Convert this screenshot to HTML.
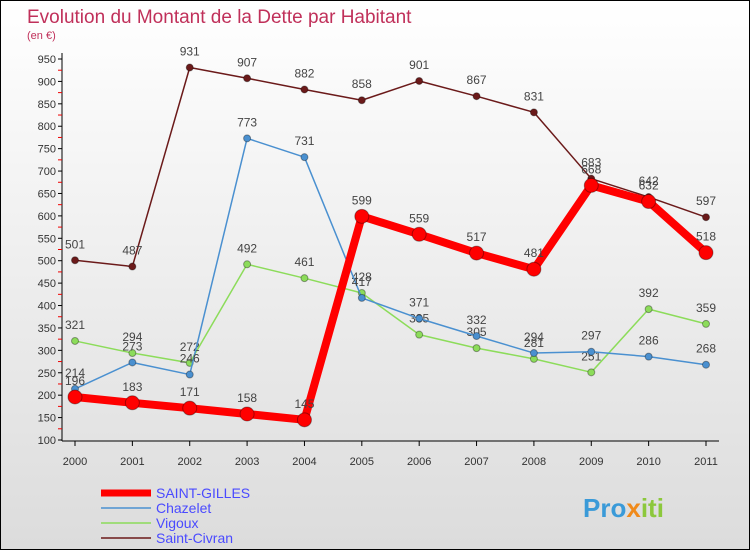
<!DOCTYPE html>
<html><head><meta charset="utf-8"><style>
html,body{margin:0;padding:0}
body{width:750px;height:550px;overflow:hidden;font-family:"Liberation Sans",sans-serif}
#wrap{position:relative;width:748px;height:548px;border:1px solid #000;background:linear-gradient(#ffffff,#dcdcdc)}
</style></head><body>
<div id="wrap">
<svg id="chart" width="748" height="548" xmlns="http://www.w3.org/2000/svg">
<text x="26" y="22" font-size="19" fill="#c0305a">Evolution du Montant de la Dette par Habitant</text>
<text x="26" y="38" font-size="11" fill="#c0305a">(en €)</text>
<g id="axes"></g><g id="series"></g>
<g>
<line x1="100" y1="492" x2="150" y2="492" stroke="#ff0000" stroke-width="7"/>
<text x="155" y="497" font-size="14" fill="#4a4aff">SAINT-GILLES</text>
<line x1="100" y1="507" x2="150" y2="507" stroke="#4a90d0" stroke-width="1.5"/>
<text x="155" y="512" font-size="14" fill="#4a4aff">Chazelet</text>
<line x1="100" y1="522" x2="150" y2="522" stroke="#8cdc5a" stroke-width="1.5"/>
<text x="155" y="527" font-size="14" fill="#4a4aff">Vigoux</text>
<line x1="100" y1="537" x2="150" y2="537" stroke="#6b1a1a" stroke-width="1.5"/>
<text x="155" y="542" font-size="14" fill="#4a4aff">Saint-Civran</text>
</g>
<text x="582" y="516" font-size="26" font-weight="bold" fill="#3a9ad8">Pro<tspan fill="#f08a1a">x</tspan><tspan fill="#8cc83c">iti</tspan></text>
</svg>
</div>
<script>
const years=["2000","2001","2002","2003","2004","2005","2006","2007","2008","2009","2010","2011"];
const yTicks=[100,150,200,250,300,350,400,450,500,550,600,650,700,750,800,850,900,950];
const saintGilles=[196,183,171,158,145,599,559,517,481,668,632,518];
const chazelet=[214,273,246,773,731,417,371,332,294,297,286,268];
const vigoux=[321,294,272,492,461,428,335,305,281,251,392,359];
const saintCivran=[501,487,931,907,882,858,901,867,831,683,642,597];
const NS="http://www.w3.org/2000/svg";
function X(i){return 74+i*(705-74)/11;}
function Y(v){return 439-(v-100)*(439-58)/850;}
function mk(tag,attrs,parent){const e=document.createElementNS(NS,tag);for(const k in attrs)e.setAttribute(k,attrs[k]);parent.appendChild(e);return e;}
const ax=document.getElementById('axes'),sg=document.getElementById('series');
const yl=mk('line',{x1:61,y1:52,x2:61,y2:440,stroke:'#000'},ax);


const xl=mk('line',{x1:61,y1:440,x2:718,y2:440,stroke:'#000'},ax);


yTicks.forEach(v=>{const y=Y(v);
mk('line',{x1:57,y1:y,x2:61,y2:y,stroke:'#000'},ax);
if(v<950)mk('line',{x1:57,y1:Y(v+25),x2:61,y2:Y(v+25),stroke:'#e00'},ax);
const t=mk('text',{x:55,y:y+4,'font-size':11,fill:'#333','text-anchor':'end'},ax);t.textContent=v;

});
years.forEach((yr,i)=>{mk('line',{x1:X(i),y1:440,x2:X(i),y2:445,stroke:'#000'},ax);
const t=mk('text',{x:X(i),y:464,'font-size':11,fill:'#333','text-anchor':'middle'},ax);t.textContent=yr;

});
function draw(data,color,w,r,name){
const g=mk('g',{},sg);


const p=mk('polyline',{points:data.map((v,i)=>X(i)+','+Y(v)).join(' '),fill:'none',stroke:color,'stroke-width':w,'stroke-linejoin':'round'},g);


data.forEach((v,i)=>{const c=mk('circle',{cx:X(i),cy:Y(v),r:r,fill:color,stroke:'rgba(0,0,0,0.35)','stroke-width':1},g);


const t=mk('text',{x:X(i),y:Y(v)-12,'font-size':12,fill:'#444','text-anchor':'middle'},g);t.textContent=v;

});}
draw(saintCivran,'#6b1a1a',1.5,3.5,'saint-civran');
draw(vigoux,'#8cdc5a',1.5,3.5,'vigoux');
draw(chazelet,'#4a90d0',1.5,3.5,'chazelet');
draw(saintGilles,'#ff0000',8,7,'saint-gilles');
</script>
</body></html>
